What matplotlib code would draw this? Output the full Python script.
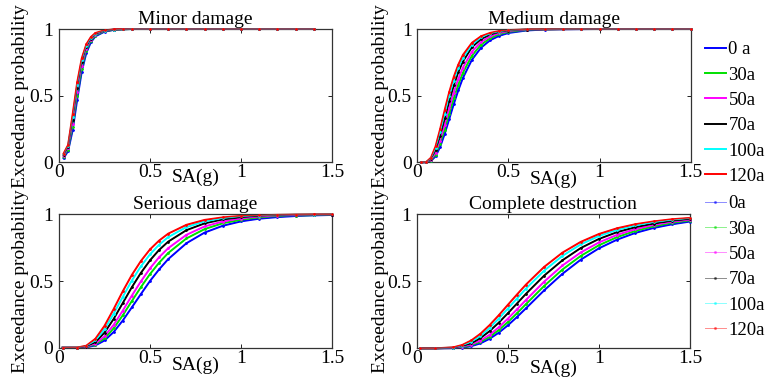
import matplotlib
matplotlib.use("Agg")
import matplotlib.pyplot as plt
from matplotlib.lines import Line2D

plt.rcParams['font.family'] = ['Liberation Serif', 'DejaVu Serif']

# ---------------- data ----------------
labels_a = ['0 a', '30a', '50a', '70a', '100a', '120a']
labels_b = ['0a', '30a', '50a', '70a', '100a', '120a']
titles = ['Minor damage', 'Medium damage', 'Serious damage', 'Complete destruction']

sa_minor = [0.025, 0.05, 0.075, 0.1, 0.125, 0.15, 0.175, 0.2, 0.25, 0.3, 0.35,
            0.4, 0.5, 0.6, 0.7, 0.8, 0.9, 1.0, 1.1, 1.2, 1.3, 1.4]
p_minor = [
    [0.030, 0.085, 0.240, 0.470, 0.680, 0.820, 0.900, 0.945, 0.980, 0.993, 0.998,
     1, 1, 1, 1, 1, 1, 1, 1, 1, 1, 1],
    [0.038, 0.095, 0.265, 0.500, 0.700, 0.835, 0.910, 0.951, 0.982, 0.994, 0.998,
     1, 1, 1, 1, 1, 1, 1, 1, 1, 1, 1],
    [0.045, 0.105, 0.290, 0.530, 0.725, 0.850, 0.918, 0.957, 0.984, 0.995, 0.999,
     1, 1, 1, 1, 1, 1, 1, 1, 1, 1, 1],
    [0.055, 0.115, 0.320, 0.560, 0.750, 0.865, 0.927, 0.962, 0.986, 0.995, 0.999,
     1, 1, 1, 1, 1, 1, 1, 1, 1, 1, 1],
    [0.060, 0.125, 0.340, 0.580, 0.765, 0.875, 0.933, 0.966, 0.988, 0.996, 0.999,
     1, 1, 1, 1, 1, 1, 1, 1, 1, 1, 1],
    [0.065, 0.130, 0.360, 0.600, 0.780, 0.885, 0.940, 0.970, 0.990, 0.997, 1.000,
     1, 1, 1, 1, 1, 1, 1, 1, 1, 1, 1],
]

sa_medium = [0.02, 0.05, 0.075, 0.1, 0.125, 0.15, 0.175, 0.2, 0.225, 0.25, 0.3, 0.35,
             0.4, 0.45, 0.5, 0.6, 0.7, 0.8, 0.9, 1.0, 1.1, 1.2, 1.3, 1.4, 1.5]
p_medium = [
    [0, 0.001, 0.010, 0.045, 0.114, 0.212, 0.324, 0.436, 0.540, 0.632, 0.770, 0.860,
     0.916, 0.949, 0.970, 0.989, 0.996, 0.998, 0.999, 1, 1, 1, 1, 1, 1],
    [0, 0.001, 0.013, 0.055, 0.136, 0.244, 0.363, 0.479, 0.582, 0.671, 0.801, 0.883,
     0.931, 0.960, 0.976, 0.992, 0.997, 0.999, 1, 1, 1, 1, 1, 1, 1],
    [0, 0.001, 0.017, 0.069, 0.162, 0.280, 0.405, 0.523, 0.625, 0.710, 0.831, 0.903,
     0.945, 0.968, 0.982, 0.994, 0.998, 0.999, 1, 1, 1, 1, 1, 1, 1],
    [0, 0.002, 0.024, 0.090, 0.199, 0.329, 0.460, 0.578, 0.677, 0.756, 0.864, 0.925,
     0.959, 0.977, 0.987, 0.996, 0.999, 1, 1, 1, 1, 1, 1, 1, 1],
    [0, 0.003, 0.029, 0.104, 0.224, 0.361, 0.495, 0.612, 0.707, 0.782, 0.882, 0.937,
     0.966, 0.981, 0.990, 0.997, 0.999, 1, 1, 1, 1, 1, 1, 1, 1],
    [0, 0.003, 0.035, 0.119, 0.248, 0.391, 0.526, 0.641, 0.733, 0.805, 0.897, 0.946,
     0.971, 0.985, 0.992, 0.997, 0.999, 1, 1, 1, 1, 1, 1, 1, 1],
]

sa_serious = [0.02, 0.1, 0.15, 0.2, 0.25, 0.3, 0.35, 0.4, 0.45, 0.5, 0.55, 0.6,
              0.7, 0.8, 0.9, 1.0, 1.1, 1.2, 1.3, 1.4, 1.5]
p_serious = [
    [0, 0, 0.003, 0.017, 0.054, 0.117, 0.203, 0.302, 0.402, 0.500, 0.587, 0.664,
     0.783, 0.863, 0.914, 0.947, 0.967, 0.979, 0.987, 0.992, 0.995],
    [0, 0, 0.004, 0.023, 0.069, 0.145, 0.242, 0.349, 0.454, 0.552, 0.637, 0.710,
     0.819, 0.889, 0.933, 0.959, 0.975, 0.985, 0.991, 0.994, 0.996],
    [0, 0, 0.005, 0.029, 0.085, 0.171, 0.277, 0.390, 0.497, 0.595, 0.678, 0.746,
     0.846, 0.909, 0.946, 0.968, 0.981, 0.989, 0.993, 0.996, 0.997],
    [0, 0, 0.008, 0.042, 0.113, 0.215, 0.334, 0.453, 0.561, 0.655, 0.733, 0.795,
     0.881, 0.932, 0.962, 0.978, 0.987, 0.993, 0.996, 0.997, 0.998],
    [0, 0.001, 0.012, 0.054, 0.139, 0.254, 0.380, 0.503, 0.610, 0.700, 0.772, 0.829,
     0.904, 0.947, 0.971, 0.984, 0.991, 0.995, 0.997, 0.998, 0.999],
    [0, 0.001, 0.015, 0.067, 0.164, 0.289, 0.422, 0.545, 0.650, 0.737, 0.803, 0.855,
     0.921, 0.958, 0.977, 0.988, 0.993, 0.996, 0.998, 0.999, 0.999],
]

sa_complete = [0.02, 0.1, 0.2, 0.25, 0.3, 0.35, 0.4, 0.45, 0.5, 0.55, 0.6, 0.7,
               0.8, 0.9, 1.0, 1.1, 1.2, 1.3, 1.4, 1.5]
p_complete = [
    [0, 0, 0.001, 0.005, 0.016, 0.037, 0.071, 0.116, 0.171, 0.233, 0.299, 0.433,
     0.556, 0.661, 0.746, 0.811, 0.861, 0.898, 0.925, 0.946],
    [0, 0, 0.002, 0.007, 0.021, 0.047, 0.085, 0.136, 0.195, 0.261, 0.330, 0.466,
     0.588, 0.689, 0.769, 0.830, 0.876, 0.910, 0.934, 0.952],
    [0, 0, 0.002, 0.010, 0.027, 0.057, 0.101, 0.156, 0.221, 0.290, 0.361, 0.498,
     0.618, 0.715, 0.790, 0.847, 0.889, 0.920, 0.942, 0.958],
    [0, 0, 0.004, 0.015, 0.038, 0.076, 0.128, 0.191, 0.261, 0.334, 0.407, 0.543,
     0.657, 0.748, 0.816, 0.867, 0.904, 0.931, 0.950, 0.964],
    [0, 0, 0.005, 0.020, 0.049, 0.093, 0.152, 0.221, 0.296, 0.371, 0.446, 0.580,
     0.690, 0.775, 0.838, 0.884, 0.917, 0.941, 0.958, 0.970],
    [0, 0, 0.007, 0.025, 0.059, 0.109, 0.173, 0.246, 0.324, 0.401, 0.476, 0.608,
     0.714, 0.794, 0.853, 0.896, 0.926, 0.947, 0.963, 0.973],
]

xticks = [0, 0.5, 1, 1.5]
xticklabels = ['0', '0.5', '1', '1.5']
yticks = [0, 0.5, 1]
yticklabels = ['0', '0.5', '1']

# ---------------- style ----------------
colors = ['#0000ff', '#00e000', '#ff00ff', '#000000', '#00ffff', '#ff0000']
W, H = 768, 379
fig = plt.figure(figsize=(W / 100, H / 100), dpi=100)

def box(l, t, r, b):
    return [l / W, 1 - b / H, (r - l) / W, (b - t) / H]

positions = [box(59, 29, 332, 162.3), box(417.3, 29, 690.7, 162.3),
             box(59, 214.3, 332, 347.7), box(416.7, 214.3, 690, 348.3)]
xlab_y = [-0.11, -0.13, -0.136, -0.146]
ylab_x = [-0.141, -0.133, -0.141, -0.133]
panels = [(sa_minor, p_minor), (sa_medium, p_medium),
          (sa_serious, p_serious), (sa_complete, p_complete)]

axes = []
for i, (pos, (sa, pset)) in enumerate(zip(positions, panels)):
    ax = fig.add_axes(pos)
    axes.append(ax)
    for c, p in zip(colors, pset):
        ax.plot(sa, p, color=c, lw=1.4, clip_on=False, zorder=2)
    for c, p in zip(colors, pset):
        ax.plot(sa, p, color=c, lw=0.5, marker='.', ms=2, clip_on=False, zorder=3)
    ax.set_xlim(0, 1.5)
    ax.set_ylim(0, 1)
    ax.set_xticks(xticks)
    ax.set_xticklabels(xticklabels)
    ax.set_yticks(yticks)
    ax.set_yticklabels(yticklabels)
    ax.tick_params(direction='in', length=3, width=0.7, labelsize=14,
                   top=True, right=True, colors='#222222', labelcolor='black')
    ax.tick_params(axis='x', pad=1.5)
    ax.tick_params(axis='y', pad=4)
    for s in ax.spines.values():
        s.set_linewidth(0.9)
        s.set_color('#333333')
    ax.set_title(titles[i], fontsize=14, pad=3.5)
    ax.text(0.5, xlab_y[i], 'SA(g)', transform=ax.transAxes, fontsize=14,
            ha='center', va='center')
    ax.text(ylab_x[i], 0.5, 'Exceedance probability', transform=ax.transAxes,
            fontsize=14, rotation=90, ha='center', va='center')

handles_a = [Line2D([], [], color=c, lw=1.4) for c in colors]
handles_b = [Line2D([], [], color=c, lw=0.7, alpha=0.45, marker='.', ms=2.5,
                    markeredgecolor=c, markerfacecolor=c) for c in colors]

leg_kw = dict(loc='upper left', bbox_transform=fig.transFigure, frameon=False,
              borderpad=0, borderaxespad=0, handlelength=1.1, handletextpad=0.15,
              labelspacing=0.44, fontsize=13.5)
axes[1].legend(handles_a, labels_a, bbox_to_anchor=(705 / W, 1 - 41 / H), **leg_kw)
axes[3].legend(handles_b, labels_b, bbox_to_anchor=(705 / W, 1 - 195 / H), **leg_kw)

fig.savefig('out.png', dpi=100)
